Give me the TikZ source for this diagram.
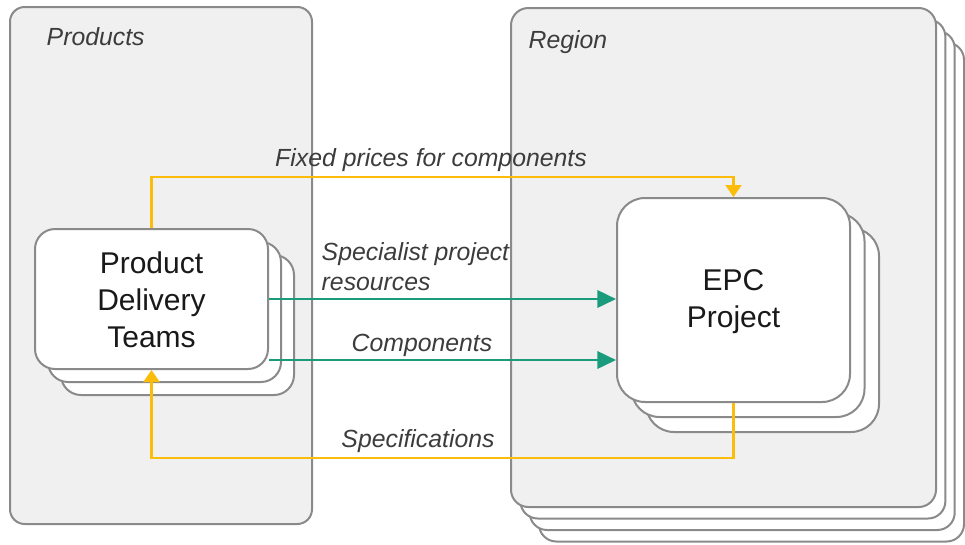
\documentclass[tikz,border=0pt]{standalone}
\usepackage{fontspec}
\setmainfont{Liberation Sans}
\usetikzlibrary{arrows.meta,calc}
\definecolor{panelfill}{HTML}{F0F0F0}
\definecolor{edge}{HTML}{8A8A8A}
\definecolor{flowyellow}{HTML}{FBBD0A}
\definecolor{flowgreen}{HTML}{1A9C7C}
\definecolor{labelgray}{HTML}{3C3C3C}
\tikzset{
  panel/.style={draw=edge, line width=1.5pt, fill=panelfill, inner sep=0pt},
  card/.style={draw=edge, line width=1.5pt, fill=white, inner sep=0pt},
  cardtext/.style={text=black!90, align=center, font=\fontsize{22.5}{27.8}\selectfont},
  flowlabel/.style={text=labelgray, font=\fontsize{18.6}{22.5}\selectfont\itshape},
  yflow/.style={draw=flowyellow, line width=1.6pt, -{Triangle[length=9pt,width=12pt]}},
  gflow/.style={draw=flowgreen, line width=2pt, -{Triangle[length=14pt,width=13pt]}}
}
\begin{document}
\begin{tikzpicture}[x=0.75pt,y=-0.75pt]
\useasboundingbox (0,0) rectangle (965,544);

% Products panel
\node[panel, rounded corners=11pt, minimum width=226.5pt, minimum height=387.75pt] (products) at (161,265.5) {};
\node[flowlabel, anchor=west] (productslbl) at (42,37) {Products};

% Region panel with stacked copies behind it
\node[card, rounded corners=13pt, minimum width=318.75pt, minimum height=374.25pt] (region3) at (751.5,292) {};
\node[card, rounded corners=13pt, minimum width=318.75pt, minimum height=374.25pt] (region2) at (742.2,280.5) {};
\node[card, rounded corners=13pt, minimum width=318.75pt, minimum height=374.25pt] (region1) at (732.9,269) {};
\node[panel, rounded corners=13pt, minimum width=318.75pt, minimum height=374.25pt] (region) at (723.5,257.5) {};
\node[flowlabel, anchor=west] (regionlbl) at (524,42) {Region};

% Product Delivery Teams stack
\node[card, rounded corners=15pt, minimum width=174.75pt, minimum height=105pt] (pdt2) at (177.5,325) {};
\node[card, rounded corners=15pt, minimum width=174.75pt, minimum height=105pt] (pdt1) at (164.5,312) {};
\node[card, rounded corners=15pt, minimum width=174.75pt, minimum height=105pt] (pdt) at (151.5,299) {};
\node[cardtext] (pdttext) at (151.5,300) {Product\\Delivery\\Teams};

% EPC Project stack
\node[card, rounded corners=21pt, minimum width=174.75pt, minimum height=153pt] (epc2) at (762.5,330) {};
\node[card, rounded corners=21pt, minimum width=174.75pt, minimum height=153pt] (epc1) at (748,315) {};
\node[card, rounded corners=21pt, minimum width=174.75pt, minimum height=153pt] (epc) at (733.5,300) {};
\node[cardtext] (epctext) at (733.5,301.5) {EPC\\Project};

% Flows
\draw[yflow] (pdt.north) -- ++(0,-51) -| (epc.north);
\node[flowlabel] (fixedlbl) at (431,160) {Fixed prices for components};

\draw[gflow] (pdt.east) -- (pdt.east -| epc.west);
\node[flowlabel, align=left, anchor=west] (speclbl) at (317,267) {Specialist project\\resources};

\coordinate (compstart) at ($(pdt.east)+(0,61)$);
\draw[gflow] (compstart) -- (compstart -| epc.west);
\node[flowlabel] (complbl) at (422,345) {Components};

\draw[yflow] (epc.south) -- ++(0,55) -| (pdt.south);
\node[flowlabel] (specslbl) at (418,441) {Specifications};
\end{tikzpicture}
\end{document}
